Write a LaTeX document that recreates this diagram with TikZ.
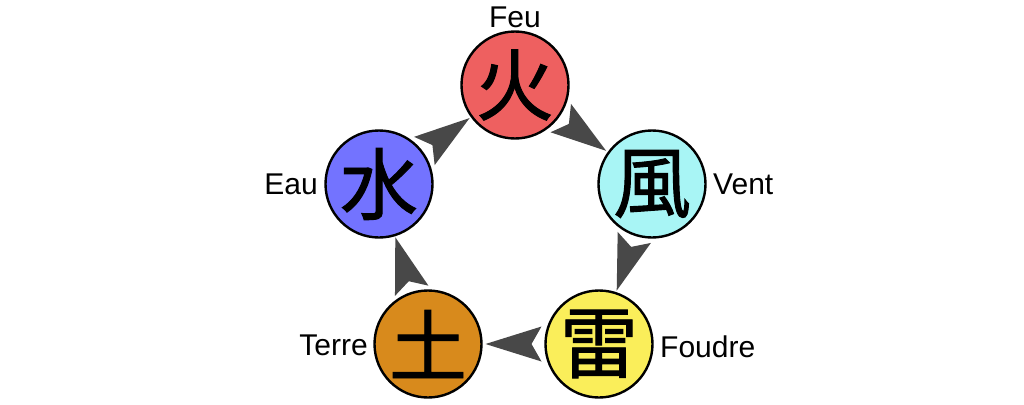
\documentclass[tikz,border=0pt]{standalone}
\usepackage{fontspec}
\setmainfont{Liberation Sans}
\newfontfamily\cjk[FakeBold=1.2]{Noto Sans CJK JP}
\usetikzlibrary{decorations.markings}
\definecolor{firec}{RGB}{238,96,96}
\definecolor{windc}{RGB}{168,245,245}
\definecolor{thunc}{RGB}{250,238,90}
\definecolor{earthc}{RGB}{216,138,28}
\definecolor{waterc}{RGB}{115,115,255}
\definecolor{arrowc}{RGB}{72,72,72}
\tikzset{
  elem/.style={circle, draw=black, line width=2.4pt, minimum size=107pt, inner sep=0pt,
    font=\cjk\fontsize{78}{80}\selectfont},
  lbl/.style={inner sep=0pt, font=\fontsize{30}{32}\selectfont},
  flow/.style={decorate, decoration={markings, mark=at position 0.5 with {
    \fill[arrowc] (28pt,0pt) -- (-28pt,17.5pt) -- (-18pt,0pt) -- (-28pt,-17.5pt) -- cycle;}}}
}
\begin{document}
\begin{tikzpicture}[x=1pt,y=-1pt]
\useasboundingbox (0,0) rectangle (1024,404);
\node[elem, fill=firec]  (fire)  at (515,85)  {火};
\node[elem, fill=windc]  (wind)  at (652,184) {風};
\node[elem, fill=thunc]  (thun)  at (599,344) {雷};
\node[elem, fill=earthc] (earth) at (428,344) {土};
\node[elem, fill=waterc] (water) at (379,184) {水};
\node[lbl] (lfire)  at (515,17)  {Feu};
\node[lbl, anchor=west] (lwind)  at (713,184) {Vent};
\node[lbl, anchor=west] (lthun)  at (660,347) {Foudre};
\node[lbl, anchor=east] (learth) at (368,345) {Terre};
\node[lbl, anchor=east] (lwater) at (318,184) {Eau};
\path[flow] (fire) -- (wind);
\path[flow] (wind) -- (thun);
\path[flow] (thun) -- (earth);
\path[flow] (earth) -- (water);
\path[flow] (water) -- (fire);
\end{tikzpicture}
\end{document}
